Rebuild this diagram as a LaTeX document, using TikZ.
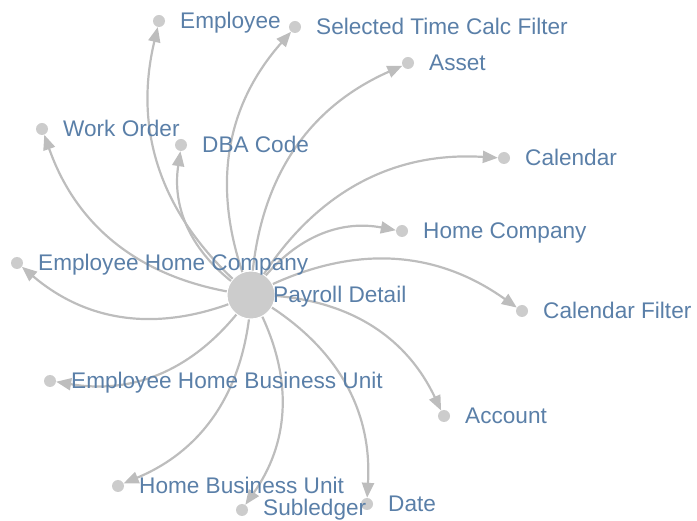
\documentclass[tikz,border=0pt]{standalone}
\usepackage{fontspec}
\setmainfont{Liberation Sans}
\usetikzlibrary{arrows.meta}
\definecolor{edgec}{HTML}{BDBDBD}
\definecolor{dotc}{HTML}{CCCCCC}
\definecolor{txtc}{HTML}{5A7FA8}
\begin{document}
\begin{tikzpicture}[x=1pt,y=-1pt,
  dotn/.style={circle,fill=dotc,minimum size=12pt,inner sep=0pt},
  hub/.style={circle,fill=dotc,minimum size=48pt,inner sep=0pt,draw=white,line width=1pt},
  lbl/.style={anchor=base west,inner sep=0pt,text=txtc,font=\fontsize{22.6}{26}\selectfont},
  edge/.style={draw=edgec,line width=2.2pt,-{Triangle[length=15pt,width=12pt]},bend left=30}]
\useasboundingbox (0,0) rectangle (697,521);
\node[hub] (pd) at (251,295) {};
\foreach \n/\x/\y in {emp/159/21,stcf/295/27,asset/408/63,wo/42/129,dba/181/145,
  cal/504/158,hc/402/231,ehc/17/263,cf/522/311,ehbu/50/381,acc/444/416,
  hbu/118/486,sub/242/510,date/367/504}
  {\node[dotn] (\n) at (\x,\y) {};}
\foreach \n in {emp,stcf,asset,wo,dba,cal,hc,ehc,cf,ehbu,acc,hbu,sub,date}
  {\draw[edge] (pd) to (\n);}
\foreach \n/\x/\y/\t in {emp/159/21/Employee,stcf/295/27/Selected Time Calc Filter,
  asset/408/63/Asset,wo/42/129/Work Order,dba/181/145/DBA Code,cal/504/158/Calendar,
  hc/402/231/Home Company,ehc/17/263/Employee Home Company,cf/522/311/Calendar Filter,
  ehbu/50/381/Employee Home Business Unit,acc/444/416/Account,
  hbu/118/486/Home Business Unit,date/367/504/Date}
  {\node[lbl] (\n-l) at (\x+21,\y+8) {\t};}
\node[lbl] (sub-l) at (263,516) {Subledger};
\node[lbl] (pd-l) at (273,303) {Payroll Detail};
\end{tikzpicture}
\end{document}
